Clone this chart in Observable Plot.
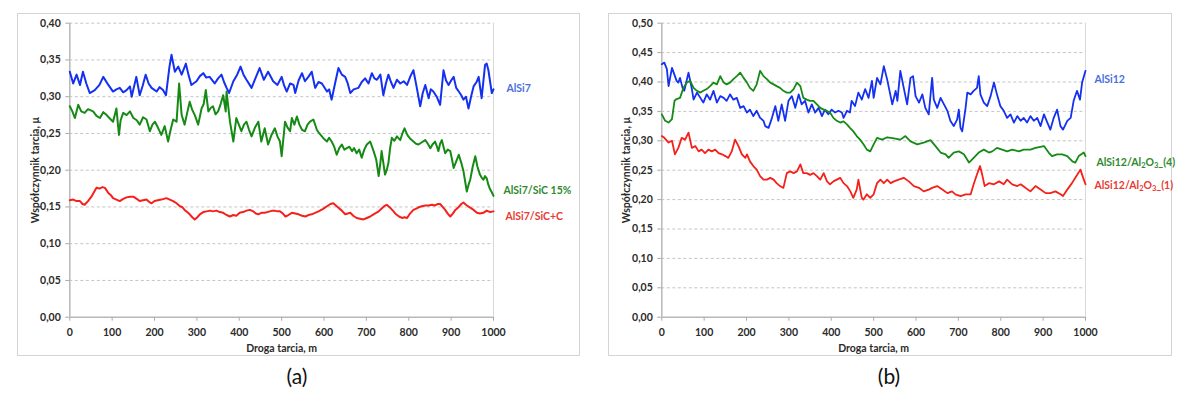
<!DOCTYPE html>
<html><head><meta charset="utf-8">
<script src="https://cdn.jsdelivr.net/npm/d3@7"></script>
<script src="https://cdn.jsdelivr.net/npm/@observablehq/plot@0.6"></script>
<style>
body{margin:0;background:#fff;width:1190px;height:398px;position:relative;overflow:hidden;font-family:Lato,"Open Sans",sans-serif;}
.panel{position:absolute;top:13px;height:343px;box-sizing:border-box;border:1px solid #d4d4d4;}
.chart{position:absolute;top:13px;}
.chart svg{overflow:visible;}
.cap{position:absolute;top:362px;font-size:21px;transform:translateX(-50%);line-height:28px;color:#111;font-family:Lato,sans-serif;}
</style></head><body>
<div class="panel" style="left:17px;width:563px"></div>
<div class="panel" style="left:608px;width:564px"></div>
<div class="chart" id="ca" style="left:17px"></div>
<div class="chart" id="cb" style="left:608px"></div>
<div class="cap" style="left:297px">(a)</div>
<div class="cap" style="left:889px">(b)</div>
<script>
// ---- tick labels ----
const xTicks = [0,100,200,300,400,500,600,700,800,900,1000];
const xLabels = ["0","100","200","300","400","500","600","700","800","900","1000"];
const yTicksA = [0,0.05,0.10,0.15,0.20,0.25,0.30,0.35,0.40];
const yLabelsA = ["0,00","0,05","0,10","0,15","0,20","0,25","0,30","0,35","0,40"];
const yTicksB = [0,0.05,0.10,0.15,0.20,0.25,0.30,0.35,0.40,0.45,0.50];
const yLabelsB = ["0,00","0,05","0,10","0,15","0,20","0,25","0,30","0,35","0,40","0,45","0,50"];
const xTitle = "Droga tarcia, m";
const yTitle = "Współczynnik tarcia, μ";

// ---- panel (a) series: [distance m, friction coefficient] ----
const aAlSi7 = [[0,0.334],[8,0.318],[16,0.330],[24,0.316],[31,0.334],[39,0.318],[47,0.305],[59,0.309],[70,0.316],[79,0.327],[91,0.316],[102,0.307],[110,0.310],[118,0.312],[126,0.306],[134,0.309],[142,0.314],[146,0.300],[157,0.327],[165,0.302],[172,0.315],[179,0.330],[186,0.318],[193,0.312],[205,0.307],[212,0.313],[220,0.309],[227,0.302],[235,0.340],[240,0.357],[248,0.334],[256,0.341],[264,0.330],[274,0.345],[280,0.330],[287,0.316],[299,0.321],[307,0.328],[315,0.332],[322,0.326],[330,0.327],[342,0.318],[350,0.325],[358,0.330],[364,0.320],[370,0.312],[376,0.305],[386,0.321],[395,0.330],[403,0.341],[410,0.330],[417,0.323],[429,0.312],[438,0.325],[448,0.339],[458,0.323],[468,0.334],[480,0.321],[490,0.316],[500,0.327],[506,0.315],[512,0.307],[520,0.318],[528,0.316],[532,0.305],[540,0.322],[548,0.332],[555,0.321],[563,0.327],[571,0.334],[579,0.312],[587,0.320],[595,0.318],[607,0.307],[612,0.310],[618,0.296],[626,0.318],[634,0.339],[642,0.330],[650,0.327],[656,0.318],[662,0.305],[670,0.310],[681,0.312],[689,0.320],[697,0.325],[705,0.318],[713,0.332],[719,0.325],[725,0.323],[733,0.330],[740,0.302],[746,0.318],[752,0.330],[758,0.320],[764,0.312],[772,0.323],[780,0.318],[788,0.321],[796,0.316],[804,0.328],[811,0.336],[818,0.315],[827,0.287],[833,0.305],[839,0.316],[847,0.298],[852,0.310],[858,0.307],[866,0.300],[874,0.289],[882,0.336],[888,0.322],[894,0.316],[900,0.322],[906,0.327],[912,0.312],[918,0.307],[924,0.302],[929,0.296],[935,0.300],[941,0.284],[947,0.300],[953,0.314],[960,0.320],[965,0.327],[972,0.298],[980,0.343],[984,0.345],[988,0.336],[996,0.305],[1000,0.310]];
const aSiC15 = [[0,0.287],[6,0.280],[12,0.271],[20,0.289],[27,0.280],[35,0.278],[43,0.283],[55,0.280],[63,0.274],[71,0.271],[79,0.279],[87,0.275],[95,0.270],[102,0.266],[110,0.284],[116,0.248],[120,0.268],[126,0.278],[134,0.275],[142,0.280],[150,0.271],[158,0.268],[165,0.262],[173,0.272],[181,0.269],[189,0.253],[195,0.262],[201,0.266],[208,0.258],[216,0.248],[224,0.260],[232,0.239],[238,0.255],[244,0.269],[252,0.266],[258,0.318],[264,0.275],[271,0.262],[277,0.278],[283,0.293],[289,0.282],[295,0.275],[303,0.262],[311,0.284],[316,0.290],[321,0.309],[327,0.280],[333,0.285],[338,0.287],[344,0.276],[350,0.280],[356,0.290],[362,0.302],[368,0.280],[370,0.307],[378,0.266],[386,0.239],[393,0.271],[399,0.262],[405,0.253],[411,0.262],[417,0.266],[423,0.255],[429,0.246],[437,0.258],[445,0.266],[452,0.239],[460,0.257],[468,0.235],[476,0.248],[484,0.257],[490,0.246],[496,0.239],[500,0.219],[508,0.266],[514,0.258],[520,0.253],[524,0.271],[530,0.262],[536,0.273],[542,0.262],[548,0.255],[555,0.253],[561,0.262],[567,0.266],[575,0.269],[583,0.255],[589,0.250],[595,0.246],[601,0.242],[607,0.239],[612,0.244],[618,0.239],[624,0.232],[630,0.221],[636,0.230],[642,0.235],[648,0.228],[654,0.230],[660,0.232],[666,0.226],[671,0.230],[677,0.223],[683,0.228],[689,0.217],[695,0.228],[701,0.235],[709,0.239],[717,0.226],[723,0.215],[729,0.192],[733,0.210],[736,0.226],[740,0.210],[744,0.194],[748,0.200],[752,0.210],[756,0.230],[760,0.244],[766,0.240],[772,0.246],[780,0.241],[785,0.250],[790,0.257],[795,0.250],[799,0.246],[805,0.242],[811,0.239],[817,0.236],[823,0.235],[831,0.238],[839,0.241],[845,0.236],[851,0.230],[856,0.235],[862,0.239],[866,0.233],[870,0.226],[874,0.236],[878,0.241],[882,0.232],[886,0.223],[892,0.228],[898,0.226],[902,0.215],[906,0.203],[912,0.212],[918,0.221],[924,0.210],[929,0.199],[933,0.185],[937,0.171],[941,0.180],[945,0.187],[951,0.205],[957,0.219],[962,0.205],[968,0.194],[972,0.190],[976,0.187],[980,0.192],[984,0.189],[988,0.180],[992,0.174],[996,0.170],[1000,0.165]];
const aSiCC = [[0,0.159],[8,0.160],[16,0.158],[24,0.158],[30,0.154],[35,0.153],[43,0.158],[51,0.164],[57,0.170],[63,0.176],[70,0.175],[77,0.177],[83,0.176],[91,0.169],[97,0.166],[102,0.162],[110,0.160],[118,0.158],[126,0.161],[134,0.163],[142,0.164],[150,0.164],[158,0.161],[165,0.158],[173,0.159],[181,0.160],[187,0.157],[193,0.155],[200,0.158],[208,0.159],[216,0.160],[222,0.161],[228,0.162],[236,0.160],[244,0.158],[252,0.155],[260,0.151],[265,0.150],[271,0.146],[277,0.143],[283,0.140],[289,0.136],[295,0.133],[301,0.136],[307,0.140],[315,0.143],[323,0.144],[331,0.145],[338,0.144],[346,0.145],[354,0.143],[362,0.142],[370,0.139],[378,0.137],[386,0.139],[393,0.138],[401,0.142],[409,0.143],[417,0.145],[425,0.146],[433,0.144],[439,0.141],[445,0.140],[452,0.142],[460,0.142],[466,0.143],[472,0.144],[478,0.145],[484,0.145],[490,0.144],[496,0.144],[503,0.141],[509,0.137],[516,0.139],[524,0.142],[532,0.141],[540,0.140],[548,0.138],[556,0.137],[563,0.139],[571,0.140],[579,0.142],[587,0.144],[597,0.147],[607,0.151],[615,0.154],[622,0.155],[628,0.152],[634,0.149],[642,0.145],[650,0.140],[656,0.141],[662,0.142],[669,0.138],[677,0.135],[685,0.134],[693,0.133],[701,0.135],[709,0.137],[717,0.140],[723,0.142],[729,0.144],[736,0.148],[742,0.151],[748,0.153],[756,0.149],[764,0.144],[770,0.140],[777,0.137],[784,0.135],[790,0.136],[796,0.135],[803,0.141],[811,0.146],[819,0.148],[825,0.150],[831,0.151],[839,0.152],[847,0.152],[855,0.153],[862,0.152],[868,0.154],[874,0.154],[880,0.150],[886,0.146],[892,0.141],[898,0.137],[904,0.141],[910,0.146],[918,0.150],[924,0.154],[929,0.156],[935,0.153],[940,0.151],[945,0.149],[953,0.146],[961,0.142],[968,0.141],[976,0.142],[984,0.145],[992,0.143],[1000,0.144]];

// ---- panel (b) series ----
const bAlSi12 = [[0,0.430],[6,0.433],[12,0.422],[16,0.393],[24,0.424],[31,0.410],[35,0.402],[39,0.399],[43,0.407],[49,0.390],[53,0.385],[63,0.416],[71,0.388],[75,0.370],[83,0.382],[91,0.373],[98,0.365],[106,0.379],[114,0.370],[122,0.385],[130,0.365],[138,0.376],[146,0.373],[153,0.368],[161,0.379],[169,0.370],[177,0.373],[185,0.356],[193,0.359],[201,0.348],[208,0.353],[216,0.342],[224,0.351],[232,0.339],[240,0.334],[244,0.325],[252,0.322],[260,0.339],[268,0.359],[275,0.334],[283,0.362],[291,0.334],[299,0.368],[307,0.376],[315,0.356],[323,0.379],[330,0.362],[338,0.368],[346,0.348],[354,0.362],[362,0.348],[370,0.356],[378,0.342],[385,0.353],[393,0.345],[401,0.353],[409,0.348],[417,0.351],[425,0.348],[429,0.339],[437,0.351],[444,0.348],[448,0.368],[456,0.359],[464,0.382],[472,0.370],[480,0.388],[488,0.373],[496,0.402],[500,0.373],[508,0.407],[516,0.396],[524,0.427],[532,0.404],[536,0.390],[544,0.362],[552,0.385],[556,0.368],[563,0.419],[571,0.390],[579,0.362],[587,0.407],[593,0.410],[599,0.376],[607,0.365],[615,0.379],[622,0.356],[630,0.345],[638,0.407],[642,0.370],[650,0.356],[658,0.373],[666,0.362],[674,0.351],[681,0.334],[689,0.325],[697,0.336],[701,0.353],[705,0.322],[709,0.316],[717,0.356],[721,0.382],[729,0.379],[736,0.385],[744,0.390],[748,0.410],[752,0.379],[760,0.365],[768,0.359],[776,0.376],[784,0.399],[791,0.379],[799,0.359],[807,0.351],[815,0.339],[823,0.345],[831,0.331],[839,0.342],[847,0.334],[854,0.339],[862,0.331],[870,0.342],[878,0.334],[886,0.339],[894,0.325],[902,0.345],[910,0.331],[917,0.319],[925,0.339],[933,0.353],[941,0.325],[947,0.319],[957,0.334],[965,0.339],[972,0.368],[980,0.385],[987,0.370],[992,0.399],[1000,0.419]];
const bAl2O3_4 = [[0,0.345],[8,0.334],[16,0.331],[24,0.337],[30,0.368],[35,0.371],[43,0.373],[51,0.390],[59,0.399],[67,0.402],[75,0.390],[83,0.385],[91,0.382],[98,0.385],[106,0.388],[114,0.393],[122,0.399],[130,0.396],[138,0.410],[146,0.399],[153,0.396],[161,0.399],[169,0.405],[177,0.410],[185,0.416],[193,0.407],[201,0.399],[208,0.390],[216,0.385],[224,0.396],[232,0.419],[240,0.410],[248,0.405],[256,0.399],[264,0.396],[271,0.393],[279,0.390],[287,0.385],[295,0.382],[303,0.382],[311,0.388],[319,0.399],[327,0.393],[334,0.373],[342,0.370],[350,0.368],[358,0.368],[366,0.362],[374,0.356],[382,0.353],[389,0.351],[397,0.348],[405,0.339],[413,0.334],[421,0.331],[429,0.333],[437,0.328],[444,0.322],[452,0.316],[460,0.308],[468,0.302],[476,0.294],[484,0.285],[492,0.282],[500,0.294],[508,0.305],[520,0.302],[532,0.306],[548,0.304],[563,0.302],[575,0.308],[587,0.299],[603,0.294],[618,0.297],[634,0.301],[646,0.291],[658,0.280],[670,0.277],[677,0.271],[689,0.280],[701,0.282],[713,0.277],[725,0.263],[736,0.271],[748,0.280],[760,0.285],[772,0.280],[780,0.282],[791,0.288],[803,0.285],[815,0.282],[827,0.285],[843,0.282],[854,0.285],[870,0.285],[882,0.288],[902,0.291],[913,0.280],[921,0.274],[933,0.277],[945,0.277],[957,0.274],[969,0.265],[976,0.263],[984,0.274],[996,0.280],[1000,0.274]];
const bAl2O3_1 = [[0,0.308],[6,0.305],[16,0.297],[24,0.300],[31,0.277],[39,0.288],[47,0.305],[55,0.302],[63,0.314],[71,0.288],[79,0.291],[87,0.282],[94,0.285],[102,0.279],[110,0.285],[118,0.282],[126,0.285],[134,0.279],[142,0.277],[150,0.274],[157,0.271],[165,0.282],[173,0.302],[181,0.291],[189,0.277],[197,0.271],[201,0.277],[208,0.265],[216,0.257],[224,0.251],[232,0.240],[240,0.234],[248,0.234],[256,0.237],[264,0.234],[271,0.228],[279,0.223],[287,0.220],[295,0.245],[303,0.248],[311,0.245],[319,0.248],[327,0.260],[334,0.245],[342,0.245],[350,0.242],[358,0.245],[366,0.240],[374,0.234],[382,0.245],[390,0.231],[397,0.226],[405,0.231],[413,0.234],[421,0.237],[429,0.228],[437,0.223],[445,0.214],[452,0.203],[460,0.217],[464,0.234],[472,0.203],[476,0.200],[484,0.209],[492,0.203],[500,0.209],[508,0.228],[516,0.234],[524,0.228],[532,0.234],[540,0.228],[548,0.231],[559,0.234],[571,0.237],[583,0.231],[595,0.223],[607,0.220],[618,0.214],[630,0.217],[638,0.220],[650,0.223],[662,0.217],[674,0.211],[685,0.214],[693,0.209],[705,0.206],[717,0.209],[729,0.209],[736,0.226],[744,0.243],[751,0.257],[756,0.243],[762,0.223],[772,0.228],[784,0.226],[796,0.231],[807,0.226],[815,0.234],[827,0.226],[839,0.223],[847,0.226],[858,0.220],[870,0.214],[882,0.223],[894,0.217],[906,0.211],[917,0.211],[929,0.214],[941,0.209],[947,0.206],[957,0.217],[968,0.228],[976,0.237],[988,0.251],[996,0.234],[1000,0.226]];

// ---- series names / label positions (value units) ----
const seriesA = [
  {name:"AlSi7", pts:aAlSi7, line:"#1430f0", label:"#4a6ee0", ly:0.311, dx:13},
  {name:"AlSi7/SiC 15%", pts:aSiC15, line:"#158a15", label:"#2d8a2d", ly:0.172, dx:10},
  {name:"AlSi7/SiC+C", pts:aSiCC, line:"#f5201a", label:"#e83a32", ly:0.137, dx:12}
];
const seriesB = [
  {name:"AlSi12", pts:bAlSi12, line:"#1430f0", label:"#4a6ee0", ly:0.404, dx:9},
  {name:"AlSi12/Al2O3_(4)", pts:bAl2O3_4, line:"#158a15", label:"#2d8a2d", ly:0.263, dx:11},
  {name:"AlSi12/Al2O3_(1)", pts:bAl2O3_1, line:"#f5201a", label:"#e83a32", ly:0.224, dx:9}
];

function makePanel(series, yTicks, yLabels, width, marginLeft, sw) {
  const ymax = yTicks[yTicks.length-1];
  const marks = [
    Plot.gridY(yTicks.filter(d => d > 0), {stroke:"#c4c4c4", strokeOpacity:1, strokeDasharray:"3,2.5"}),
    Plot.ruleX([1000], {y1:0, y2:ymax, stroke:"#d9d9d9"}),
    Plot.axisY({ticks:yTicks, tickFormat:d => yLabels[yTicks.indexOf(d)], tickSize:4, tickPadding:5, label:null, stroke:"#a8a8a8", fill:"#2b2b2b"}),
    Plot.axisX({ticks:xTicks, tickFormat:d => xLabels[xTicks.indexOf(d)], tickSize:4, tickPadding:7.5, label:null, stroke:"#a8a8a8", fill:"#2b2b2b"}),
    Plot.ruleY([0], {stroke:"#b8b8b8", strokeWidth:1.5}),
    Plot.ruleX([0], {y1:0, y2:ymax, stroke:"#b8b8b8", strokeWidth:1.5}),
    Plot.text([yTitle], {frameAnchor:"left", textAnchor:"middle", lineAnchor:"middle", rotate:-90, dx:-(marginLeft-18), fill:"#2b2b2b"}),
    Plot.text([xTitle], {frameAnchor:"bottom", textAnchor:"middle", lineAnchor:"middle", dy:31.3, fill:"#2b2b2b"})
  ];
  for (const s of series) {
    marks.push(Plot.line(s.pts, {x:d => d[0], y:d => d[1], stroke:s.line, strokeWidth:sw, strokeLinejoin:"round"}));
  }
  for (const s of series) {
    marks.push(Plot.text([s.name], {x:() => 1000, y:() => s.ly, text:d => d, textAnchor:"start", dx:s.dx, fill:s.label}));
  }
  return Plot.plot({
    width, height:343, marginLeft, marginRight:width - marginLeft - 423.7, marginTop:9.7, marginBottom:39.3,
    x:{domain:[0,1000]}, y:{domain:[0,ymax]},
    style:{fontFamily:"Lato, 'Open Sans', sans-serif", fontSize:"10.5px", fontWeight:"bold", background:"transparent", overflow:"visible"},
    marks
  });
}

const svgA = makePanel(seriesA, yTicksA, yLabelsA, 563, 52.3, 2);
const svgB = makePanel(seriesB, yTicksB, yLabelsB, 564, 53.3, 1.8);
document.getElementById("ca").appendChild(svgA);
document.getElementById("cb").appendChild(svgB);

// subscripts for Al2O3
svgB.querySelectorAll("text").forEach(t => {
  const s = t.textContent;
  if (s.includes("Al2O3")) {
    const tail = s.split("Al2O3")[1];
    t.innerHTML = 'AlSi12/Al<tspan font-size="7.5" dy="2.5">2</tspan><tspan dy="-2.5">O</tspan><tspan font-size="7.5" dy="2.5">3</tspan><tspan dy="-2.5">' + tail + '</tspan>';
  }
});
</script>
</body></html>
